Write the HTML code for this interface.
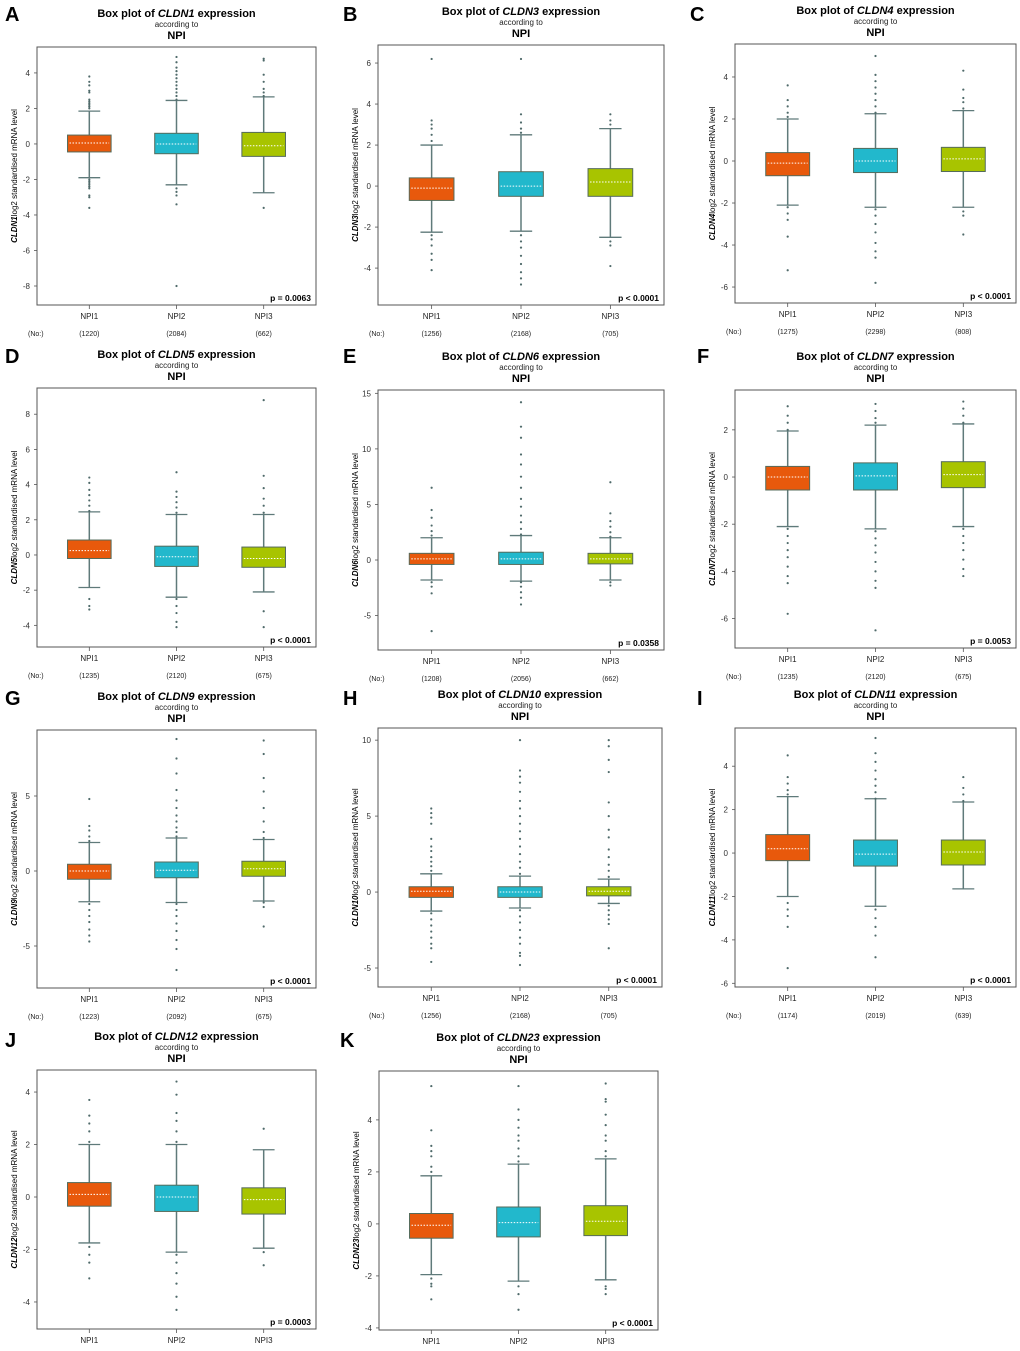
<!DOCTYPE html>
<html><head><meta charset="utf-8"><style>
body{margin:0;background:#fff;width:1020px;height:1351px;overflow:hidden;font-family:"Liberation Sans",Arial,sans-serif}
svg{display:block}
</style></head><body>
<svg id="fig" width="1020" height="1351" viewBox="0 0 1020 1351" xmlns="http://www.w3.org/2000/svg" font-family="Liberation Sans, Arial, sans-serif"></svg>
<script>
// ---- data ----
const groups = ["NPI1","NPI2","NPI3"];
const colors = ["#e8590c","#22b8cc","#a8c400"];
const genes = ["CLDN1","CLDN3","CLDN4","CLDN5","CLDN6","CLDN7","CLDN9","CLDN10","CLDN11","CLDN12","CLDN23"];
const letters = ["A","B","C","D","E","F","G","H","I","J","K"];
const pValues = ["p = 0.0063","p < 0.0001","p < 0.0001","p < 0.0001","p = 0.0358","p = 0.0053","p < 0.0001","p < 0.0001","p < 0.0001","p = 0.0003","p < 0.0001"];
const counts = [[1220,2084,662],[1256,2168,705],[1275,2298,808],[1235,2120,675],[1208,2056,662],[1235,2120,675],[1223,2092,675],[1256,2168,705],[1174,2019,639],null,null];
const yDomains = [[-9.07,5.46],[-5.8,6.88],[-6.76,5.57],[-5.23,9.49],[-8.1,15.3],[-7.25,3.69],[-7.8,9.4],[-6.25,10.8],[-6.17,5.76],[-5.03,4.84],[-4.08,5.88]];
const yTicks = [[-8,-6,-4,-2,0,2,4],[-4,-2,0,2,4,6],[-6,-4,-2,0,2,4],[-4,-2,0,2,4,6,8],[-5,0,5,10,15],[-6,-4,-2,0,2],[-5,0,5],[-5,0,5,10],[-6,-4,-2,0,2,4],[-4,-2,0,2,4],[-4,-2,0,2,4]];
// stats per box: [q1, median, q3, whiskerLow, whiskerHigh]
const boxStats = [
 [[-0.45,0.05,0.5,-1.9,1.85],[-0.55,0,0.6,-2.3,2.45],[-0.7,-0.1,0.65,-2.75,2.65]],
 [[-0.7,-0.1,0.4,-2.25,2.0],[-0.5,0,0.7,-2.2,2.5],[-0.5,0.2,0.85,-2.5,2.8]],
 [[-0.7,-0.1,0.4,-2.1,2.0],[-0.55,0,0.6,-2.2,2.25],[-0.5,0.1,0.65,-2.2,2.4]],
 [[-0.2,0.25,0.85,-1.85,2.45],[-0.65,-0.1,0.5,-2.4,2.3],[-0.7,-0.2,0.45,-2.1,2.3]],
 [[-0.4,0.1,0.6,-1.8,2.0],[-0.4,0.1,0.7,-1.9,2.2],[-0.35,0.1,0.6,-1.8,2.0]],
 [[-0.55,0,0.45,-2.1,1.95],[-0.55,0.05,0.6,-2.2,2.2],[-0.45,0.1,0.65,-2.1,2.25]],
 [[-0.55,0,0.45,-2.05,1.9],[-0.45,0.05,0.6,-2.1,2.2],[-0.35,0.15,0.65,-2.0,2.1]],
 [[-0.35,0.05,0.35,-1.25,1.2],[-0.35,0,0.35,-1.05,1.05],[-0.25,0.05,0.35,-0.75,0.85]],
 [[-0.35,0.2,0.85,-2.0,2.6],[-0.6,-0.05,0.6,-2.45,2.5],[-0.55,0.05,0.6,-1.65,2.35]],
 [[-0.35,0.1,0.55,-1.75,2.0],[-0.55,0,0.45,-2.1,2.0],[-0.65,-0.1,0.35,-1.95,1.8]],
 [[-0.55,-0.05,0.4,-1.95,1.85],[-0.5,0.05,0.65,-2.2,2.3],[-0.45,0.1,0.7,-2.15,2.5]]
];
const outliers = [
 [[2.0,2.1,2.2,2.3,2.4,2.5,2.9,3.0,3.3,3.5,3.8,-2.0,-2.1,-2.2,-2.3,-2.4,-2.5,-2.9,-3.0,-3.6],[2.5,2.7,2.9,3.1,3.3,3.5,3.7,3.9,4.1,4.3,4.6,4.9,-2.5,-2.7,-2.9,-3.4,-8.0],[2.7,2.9,3.1,3.5,3.9,4.7,4.8,-3.6]],
 [[2.2,2.5,2.8,3.0,3.2,6.2,-2.4,-2.6,-2.9,-3.3,-3.6,-4.1],[2.6,2.8,3.1,3.5,6.2,-2.4,-2.7,-3.0,-3.4,-3.8,-4.2,-4.5,-4.8],[3.0,3.2,3.5,-2.7,-2.9,-3.9]],
 [[2.1,2.3,2.6,2.9,3.6,-2.2,-2.5,-2.8,-3.6,-5.2],[2.3,2.6,2.9,3.2,3.5,3.8,4.1,5.0,-2.3,-2.6,-3.0,-3.4,-3.9,-4.3,-4.6,-5.8],[2.5,2.8,3.0,3.4,4.3,-2.4,-2.6,-3.5]],
 [[2.5,2.8,3.1,3.4,3.7,4.1,4.4,-2.5,-2.9,-3.1],[2.4,2.7,3.0,3.3,3.6,4.7,-2.5,-2.9,-3.3,-3.8,-4.1],[2.4,2.8,3.2,3.8,4.5,8.8,-3.2,-4.1]],
 [[2.2,2.6,3.1,3.8,4.5,6.5,-2.0,-2.4,-3.0,-6.4],[2.3,2.8,3.4,4.0,4.8,5.5,6.5,7.5,8.6,9.5,11.0,12.0,14.2,-2.0,-2.4,-2.9,-3.4,-4.0],[2.1,2.5,3.0,3.5,4.2,7.0,-2.0,-2.3]],
 [[2.0,2.3,2.6,3.0,-2.2,-2.5,-2.8,-3.1,-3.4,-3.8,-4.2,-4.5,-5.8],[2.3,2.5,2.8,3.1,-2.3,-2.6,-2.9,-3.2,-3.6,-4.0,-4.4,-4.7,-6.5],[2.3,2.6,2.9,3.2,-2.2,-2.5,-2.8,-3.1,-3.5,-3.9,-4.2]],
 [[2.0,2.3,2.7,3.0,4.8,-2.2,-2.6,-3.0,-3.4,-3.9,-4.3,-4.7],[2.3,2.6,2.9,3.3,3.7,4.2,4.7,5.4,6.5,7.5,8.8,-2.2,-2.6,-3.0,-3.5,-4.0,-4.6,-5.2,-6.6],[2.2,2.6,3.3,4.2,5.3,6.2,7.8,8.7,-2.1,-2.4,-3.7]],
 [[1.4,1.7,2.0,2.3,2.7,3.0,3.5,4.5,4.9,5.2,5.5,-1.4,-1.8,-2.2,-2.6,-3.0,-3.4,-3.7,-4.6],[1.2,1.6,2.0,2.5,3.0,3.5,4.0,4.5,5.0,5.5,6.0,6.6,7.2,7.6,8.0,10.0,-1.2,-1.6,-2.0,-2.5,-3.0,-3.4,-4.0,-4.2,-4.8],[1.0,1.4,1.8,2.3,2.8,3.6,4.1,5.0,5.9,7.9,8.7,9.6,10.0,-0.9,-1.2,-1.5,-1.8,-2.1,-3.7]],
 [[2.7,2.9,3.2,3.5,4.5,-2.3,-2.6,-2.9,-3.4,-5.3],[2.5,2.8,3.1,3.4,3.8,4.2,4.6,5.3,-2.6,-3.0,-3.4,-3.8,-4.8],[2.4,2.7,3.0,3.5]],
 [[2.1,2.5,2.8,3.1,3.7,-1.9,-2.2,-2.5,-3.1],[2.1,2.5,2.9,3.2,3.9,4.4,-2.2,-2.5,-2.9,-3.3,-3.8,-4.3],[2.6,-2.1,-2.6]],
 [[2.0,2.2,2.6,2.8,3.0,3.6,5.3,-2.1,-2.3,-2.4,-2.9],[2.4,2.6,2.9,3.2,3.4,3.7,4.0,4.4,5.3,-2.4,-2.7,-3.3],[2.6,2.8,3.2,3.4,3.8,4.2,4.7,4.8,5.4,-2.4,-2.5,-2.7]]
];
// ---- layout (pixel geometry, not data) ----
const rects = [[37,47,316,305],[378,45,664,305],[735,44,1016,303],[37,388,316,647],[378,390,664,650],[735,390,1016,648],[37,730,316,988],[378,728,662,987],[735,728,1016,987],[37,1070,316,1329],[379,1071,658,1330]];
const letterPos = [[5,21],[343,21],[690,21],[5,363],[343,363],[697,363],[5,705],[343,705],[697,705],[5,1047],[340,1047]];
const NS="http://www.w3.org/2000/svg";
const fig=document.getElementById('fig');
function mk(tag,attrs,parent,text){const e=document.createElementNS(NS,tag);for(const k in attrs)e.setAttribute(k,attrs[k]);if(text!==undefined)e.textContent=text;(parent||fig).appendChild(e);return e;}

genes.forEach((gene,i)=>{
  const [L,T,R,B]=rects[i];
  const g=mk('g',{});
  
  
  const yS=v=>B-(v-yDomains[i][0])/(yDomains[i][1]-yDomains[i][0])*(B-T);
  const xS=k=>L+(k+1-0.4)/3.2*(R-L);
  const bw=0.25/3.2*(R-L);
  const cx=(L+R)/2;
  const lt=mk('text',{x:letterPos[i][0],y:letterPos[i][1],'font-size':20,'font-weight':'bold',fill:'#000'},g,letters[i]);
  
  const tt=mk('text',{x:cx,y:T-30,'font-size':11,'font-weight':'bold','text-anchor':'middle'},g);
  
  mk('tspan',{},tt,'Box plot of ');mk('tspan',{'font-style':'italic'},tt,gene);mk('tspan',{},tt,' expression');
  const st=mk('text',{x:cx,y:T-20,'font-size':8,'text-anchor':'middle',fill:'#222'},g,'according to');
  
  const nt=mk('text',{x:cx,y:T-8,'font-size':11,'font-weight':'bold','text-anchor':'middle'},g,'NPI');
  
  // y label
  const yl=mk('text',{transform:`translate(${L-20},${(T+B)/2}) rotate(-90)`,'font-size':8,'text-anchor':'middle'},g);
  
  mk('tspan',{'font-style':'italic','font-weight':'bold'},yl,gene);mk('tspan',{},yl,'log2 standardised mRNA level');
  // ticks
  yTicks[i].forEach(t=>{
    const y=yS(t);
    mk('line',{x1:L-3,x2:L,y1:y,y2:y,stroke:'#555','stroke-width':0.8},g);
    const tl=mk('text',{x:L-7,y:y+3,'font-size':8,'text-anchor':'end',fill:'#333'},g,String(t));
    
  });
  groups.forEach((grp,k)=>{
    const x=xS(k);const s=boxStats[i][k];
    const bg=mk('g',{},g);
    
    
    mk('line',{x1:x,x2:x,y1:yS(s[4]),y2:yS(s[3]),stroke:'#5f7a7a','stroke-width':1.5},bg);
    mk('line',{x1:x-bw/2,x2:x+bw/2,y1:yS(s[4]),y2:yS(s[4]),stroke:'#5f7a7a','stroke-width':1.3},bg);
    mk('line',{x1:x-bw/2,x2:x+bw/2,y1:yS(s[3]),y2:yS(s[3]),stroke:'#5f7a7a','stroke-width':1.3},bg);
    mk('rect',{x:x-bw,y:yS(s[2]),width:2*bw,height:yS(s[0])-yS(s[2]),fill:colors[k],stroke:'#556b5b','stroke-width':1},bg);
    mk('line',{x1:x-bw+2,x2:x+bw-2,y1:yS(s[1]),y2:yS(s[1]),stroke:'#fff','stroke-width':1,'stroke-dasharray':'1.5,1.5'},bg);
    outliers[i][k].forEach(v=>{
      const c=mk('circle',{cx:x,cy:yS(v),r:1.1,fill:'#4f6a6a'},bg);
      
      
    });
    mk('line',{x1:x,x2:x,y1:B,y2:B+4,stroke:'#555','stroke-width':0.8},g);
    const xl=mk('text',{x:x,y:B+14,'font-size':8,'text-anchor':'middle',fill:'#222'},g,grp);
    
    if(counts[i]){
      const cl=mk('text',{x:x,y:B+31,'font-size':7,'text-anchor':'middle',fill:'#222'},g,'('+counts[i][k]+')');
      
    }
  });
  if(counts[i]){
    const no=mk('text',{x:L-9,y:B+31,'font-size':7,fill:'#222'},g,'(No:)');
    
  }
  const fr=mk('rect',{x:L,y:T,width:R-L,height:B-T,fill:'none',stroke:'#555','stroke-width':1},g);
  
  const pv=mk('text',{x:R-5,y:B-4,'font-size':8.5,'font-weight':'bold','text-anchor':'end'},g,pValues[i]);
  
});
</script>
</body></html>
